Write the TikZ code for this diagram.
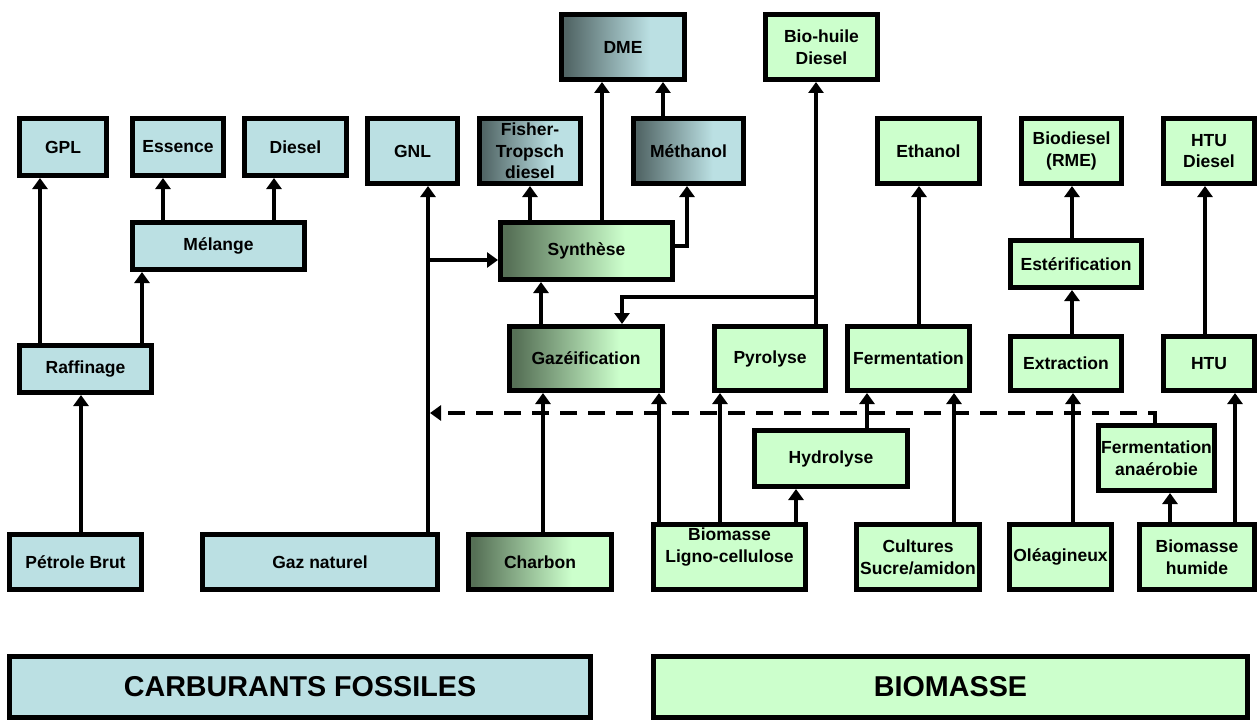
\documentclass[tikz,border=0pt]{standalone}
\usepackage{fontspec}
\setmainfont{Liberation Sans}
\usetikzlibrary{arrows.meta}
\definecolor{fossil}{HTML}{BBE0E3}
\definecolor{biocol}{HTML}{CCFFCC}
\definecolor{dkblue}{HTML}{526666}
\definecolor{dkgreen}{HTML}{567056}
\pgfdeclarehorizontalshading{bluegrad}{100bp}{color(0bp)=(dkblue); color(27bp)=(dkblue); color(61bp)=(fossil); color(100bp)=(fossil)}
\pgfdeclarehorizontalshading{greengrad}{100bp}{color(0bp)=(dkgreen); color(27bp)=(dkgreen); color(61bp)=(biocol); color(100bp)=(biocol)}
\begin{document}
\begin{tikzpicture}[x=1pt,y=-1pt,
  txt/.style={font=\bfseries\fontsize{17.5}{21.7}\selectfont},
  bigtxt/.style={font=\bfseries\fontsize{28.7}{34}\selectfont},
  box/.style={draw=black, line width=5pt, inner sep=0pt, align=center, txt},
  fnode/.style={box, fill=fossil},
  bnode/.style={box, fill=biocol},
  bgrad/.style={box, shading=bluegrad},
  ggrad/.style={box, shading=greengrad},
  sz/.style 2 args={minimum width={#1pt-5pt}, minimum height={#2pt-5pt}},
  arr/.style={line width=4pt, -{Triangle[width=15pt,length=11pt]}},
  dsh/.style={dash pattern=on 17pt off 11pt}
]
\useasboundingbox[fill=white] (0,0) rectangle (1257,722);

% top products
\node[fnode, sz={92}{62}] (gpl) at (63,147) {GPL};
\node[fnode, sz={96}{62}] (ess) at (178,147) {Essence};
\node[fnode, sz={107}{62}] (dies) at (295.5,147) {Diesel};
\node[fnode, sz={95}{70}] (gnl) at (412.5,151) {GNL};
\node[bgrad, sz={106}{70}] (ft) at (530,151) {Fisher-\\Tropsch\\diesel};
\node[bgrad, sz={115}{70}] (meth) at (688.5,151) {Méthanol};
\node[bgrad, sz={128}{70}] (dme) at (623,47) {DME};
\node[bnode, sz={117}{70}] (bioh) at (821.5,47) {Bio-huile\\Diesel};
\node[bnode, sz={107}{70}] (eth) at (928.5,151) {Ethanol};
\node[bnode, sz={105}{70}] (biod) at (1071.5,151) {Biodiesel\\(RME)};
\node[bnode, sz={96}{70}] (htud) at (1209,151) {HTU\\Diesel};

% processes
\node[fnode, sz={177}{52}] (mel) at (218.5,246) {Mélange};
\node[ggrad, sz={177}{62}] (syn) at (586.5,251) {Synthèse};
\node[bnode, sz={136}{52}] (est) at (1076,264) {Estérification};
\node[fnode, sz={137}{52}] (raf) at (85.5,369) {Raffinage};
\node[ggrad, sz={158}{69}] (gaz) at (586,358.5) {Gazéification};
\node[bnode, sz={116}{69}] (pyr) at (770,358.5) {Pyrolyse};
\node[bnode, sz={127}{69}] (ferm) at (908.5,358.5) {Fermentation};
\node[bnode, sz={116}{59}] (extr) at (1066,363.5) {Extraction};
\node[bnode, sz={96}{59}] (htu) at (1209,363.5) {HTU};
\node[bnode, sz={158}{61}] (hyd) at (831,458.5) {Hydrolyse};
\node[bnode, sz={121}{70}] (fana) at (1156.5,458) {Fermentation\\anaérobie};

% resources
\node[fnode, sz={137}{60}] (pet) at (75.5,562) {Pétrole Brut};
\node[fnode, sz={240}{60}] (gn) at (320,562) {Gaz naturel};
\node[ggrad, sz={148}{60}] (charb) at (540,562) {Charbon};
\node[bnode, sz={157}{70}, label={[txt, align=center, yshift=10pt]center:Biomasse\\Ligno-cellulose}] (ligno) at (729.5,557) {};
\node[bnode, sz={128}{70}] (cult) at (918,557) {Cultures\\Sucre/amidon};
\node[bnode, sz={107}{70}] (olea) at (1060.5,557) {Oléagineux};
\node[bnode, sz={120}{70}] (bhum) at (1197,557) {Biomasse\\humide};

% legends
\node[fnode, bigtxt, sz={586}{66}] (cf) at (300,687) {CARBURANTS FOSSILES};
\node[bnode, bigtxt, sz={599}{66}] (bm) at (950.5,687) {BIOMASSE};

% connectors
\draw[arr] (pet.north -| 81,0) -- (raf.south -| 81,0);
\draw[arr] (raf.north -| 40,0) -- (gpl.south -| 40,0);
\draw[arr] (raf.north -| 142,0) -- (mel.south -| 142,0);
\draw[arr] (mel.north -| 163,0) -- (ess.south -| 163,0);
\draw[arr] (mel.north -| 274,0) -- (dies.south -| 274,0);
\draw[arr] (gn.north -| 428,0) -- (gnl.south -| 428,0);
\coordinate (j1) at (428,260);
\draw[arr] (j1) -- (syn.west |- j1);
\coordinate (j3) at (1155,413);
\coordinate (j4) at (430,413);
\draw[arr, dsh] (fana.north -| j3) -- (j3) -- (j4);

\draw[arr] (charb.north -| 543,0) -- (gaz.south -| 543,0);
\draw[arr] (ligno.north -| 659,0) -- (gaz.south -| 659,0);
\draw[arr] (ligno.north -| 720,0) -- (pyr.south -| 720,0);
\draw[arr] (ligno.north -| 796,0) -- (hyd.south -| 796,0);
\draw[arr] (hyd.north -| 867,0) -- (ferm.south -| 867,0);
\draw[arr] (cult.north -| 954,0) -- (ferm.south -| 954,0);
\draw[arr] (olea.north -| 1073,0) -- (extr.south -| 1073,0);
\draw[arr] (bhum.north -| 1170,0) -- (fana.south -| 1170,0);
\draw[arr] (bhum.north -| 1235,0) -- (htu.south -| 1235,0);
\draw[arr] (extr.north -| 1072,0) -- (est.south -| 1072,0);
\draw[arr] (est.north -| 1072,0) -- (biod.south -| 1072,0);
\draw[arr] (htu.north -| 1205,0) -- (htud.south -| 1205,0);
\draw[arr] (ferm.north -| 919,0) -- (eth.south -| 919,0);
\draw[arr] (gaz.north -| 541,0) -- (syn.south -| 541,0);
\draw[arr] (syn.north -| 530,0) -- (ft.south -| 530,0);
\draw[arr] (syn.north -| 602,0) -- (dme.south -| 602,0);
\draw[arr] ([yshift=5pt]syn.east) -| (meth.south -| 687,0);
\draw[arr] (meth.north -| 663,0) -- (dme.south -| 663,0);
\draw[arr] (pyr.north -| 816,0) -- (bioh.south -| 816,0);
\coordinate (j2) at (816,297);
\draw[arr] (j2) -| (gaz.north -| 622,0);
\end{tikzpicture}
\end{document}
